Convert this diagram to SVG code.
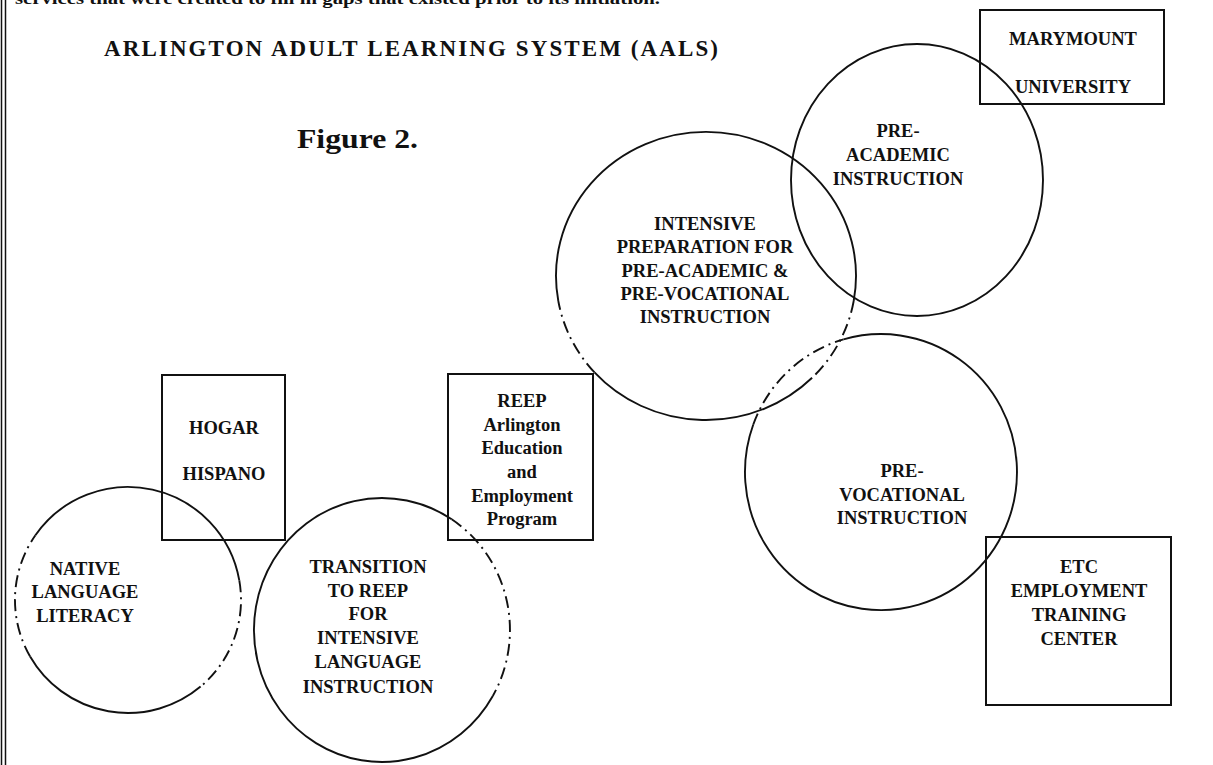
<svg xmlns="http://www.w3.org/2000/svg" width="1213" height="765" viewBox="0 0 1213 765">
<style>
.t{font-family:"Liberation Serif","DejaVu Serif",serif;font-weight:bold;font-size:18.5px;text-anchor:middle;fill:#111}
.box{fill:none;stroke:#111;stroke-width:2}
.ring{fill:none;stroke:#111;stroke-width:1.9}
.dash{stroke-dasharray:12 5 2 5}
.title{font-family:"Liberation Serif","DejaVu Serif",serif;font-weight:bold;fill:#111}
</style>
<rect width="1213" height="765" fill="#fff"/>
<g id="page-border">
<line x1="1.5" y1="0" x2="1.5" y2="765" stroke="#111" stroke-width="1.5"/>
<line x1="5.5" y1="0" x2="5.5" y2="765" stroke="#111" stroke-width="1.5"/>
</g>
<text class="title" x="15" y="4" font-size="16" font-weight="normal" textLength="645" lengthAdjust="spacingAndGlyphs">services that were created to fill in gaps that existed prior to its initiation.</text>
<text class="title" x="104" y="56" font-size="23" textLength="614" lengthAdjust="spacing">ARLINGTON  ADULT  LEARNING  SYSTEM  (AALS)</text>
<text class="title" x="297" y="148" font-size="27" textLength="121" lengthAdjust="spacingAndGlyphs">Figure 2.</text>
<g id="connectors"></g>
<g id="native-language-literacy">
<path class="ring" d="M35.4,535.2 A113,113 0 0 1 239.3,580.4"/>
<path class="ring dash" d="M239.3,580.4 A113,113 0 0 1 200.6,686.6"/>
<path class="ring" d="M200.6,686.6 A113,113 0 0 1 30.1,656.5"/>
<path class="ring dash" d="M30.1,656.5 A113,113 0 0 1 35.4,535.2"/>
<text class="t" x="85" y="575">NATIVE</text>
<text class="t" x="85" y="598">LANGUAGE</text>
<text class="t" x="85" y="622">LITERACY</text>
</g>
<g id="hogar-hispano">
<rect class="box" x="162" y="375" width="123" height="165"/>
<text class="t" x="224" y="434">HOGAR</text>
<text class="t" x="224" y="480">HISPANO</text>
</g>
<g id="transition-to-reep">
<path class="ring" d="M492.8,696 A128,132 0 1 1 451.7,519.3"/>
<path class="ring dash" d="M451.7,519.3 A128,132 0 0 1 492.8,696"/>
<text class="t" x="368" y="573">TRANSITION</text>
<text class="t" x="368" y="597">TO REEP</text>
<text class="t" x="368" y="620">FOR</text>
<text class="t" x="368" y="644">INTENSIVE</text>
<text class="t" x="368" y="668">LANGUAGE</text>
<text class="t" x="368" y="693">INSTRUCTION</text>
</g>
<g id="reep">
<rect class="box" x="448" y="374" width="145" height="166"/>
<text class="t" x="522" y="407">REEP</text>
<text class="t" x="522" y="431">Arlington</text>
<text class="t" x="522" y="454">Education</text>
<text class="t" x="522" y="478">and</text>
<text class="t" x="522" y="502">Employment</text>
<text class="t" x="522" y="525">Program</text>
</g>
<g id="intensive-preparation">
<path class="ring" d="M558.3,301 A150,144 0 1 1 853.7,301"/>
<path class="ring dash" d="M853.7,301 A150,144 0 0 1 812.1,377.8"/>
<path class="ring" d="M812.1,377.8 A150,144 0 0 1 594.5,372.4"/>
<path class="ring dash" d="M594.5,372.4 A150,144 0 0 1 558.3,301"/>
<text class="t" x="705" y="230">INTENSIVE</text>
<text class="t" x="705" y="253">PREPARATION FOR</text>
<text class="t" x="705" y="277">PRE-ACADEMIC &amp;</text>
<text class="t" x="705" y="300">PRE-VOCATIONAL</text>
<text class="t" x="705" y="323">INSTRUCTION</text>
</g>
<g id="pre-academic">
<ellipse class="ring" cx="917" cy="180" rx="126" ry="136"/>
<text class="t" x="898" y="137">PRE-</text>
<text class="t" x="898" y="161">ACADEMIC</text>
<text class="t" x="898" y="185">INSTRUCTION</text>
</g>
<g id="marymount">
<rect class="box" x="980" y="10" width="184" height="94"/>
<text class="t" x="1073" y="45">MARYMOUNT</text>
<text class="t" x="1073" y="93">UNIVERSITY</text>
</g>
<g id="pre-vocational">
<path class="ring dash" d="M753.2,424.8 A136,138 0 0 1 843.5,339.4"/>
<path class="ring" d="M843.5,339.4 A136,138 0 1 1 753.2,424.8"/>
<text class="t" x="902" y="477">PRE-</text>
<text class="t" x="902" y="501">VOCATIONAL</text>
<text class="t" x="902" y="524">INSTRUCTION</text>
</g>
<g id="etc">
<rect class="box" x="986" y="537" width="185" height="168"/>
<text class="t" x="1079" y="573">ETC</text>
<text class="t" x="1079" y="597">EMPLOYMENT</text>
<text class="t" x="1079" y="621">TRAINING</text>
<text class="t" x="1079" y="645">CENTER</text>
</g>
</svg>
